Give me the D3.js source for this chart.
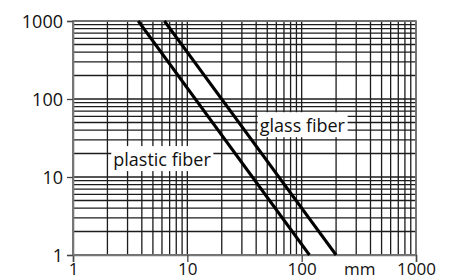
<!DOCTYPE html>
<html><head><meta charset="utf-8">
<script src="https://cdn.jsdelivr.net/npm/d3@7"></script>
<style>
html,body{margin:0;padding:0;background:#fff;}
text{font-family:"Open Sans",sans-serif;font-size:18px;fill:#111;}
</style></head>
<body><svg id="c" width="453" height="280"></svg>
<script>
// Data
const xTicks = [1, 10, 100, 1000];
const yTicks = [1, 10, 100, 1000];
const xUnit = "mm";
const glassX = [6.3, 200];
const glassY = [1000, 1];
const plasticX = [3.72, 117];
const plasticY = [1000, 1];
const labels = ["glass fiber", "plastic fiber"];
const labelX = [43, 2.25];
const labelY = [37.5, 13.8];

const svg = d3.select("#c");
const L = 73, R = 416, T = 21, B = 255;
const x = d3.scaleLog().domain([1, 1000]).range([L, R]);
const y = d3.scaleLog().domain([1, 1000]).range([B, T]);

const grid = [];
for (let d = 1; d < 1000; d *= 10) for (let k = 1; k < 10; k++) grid.push(d * k);
grid.push(1000);

const g = svg.append("g");
g.selectAll("line.vx").data(grid).join("line")
  .attr("x1", d => x(d)).attr("x2", d => x(d)).attr("y1", T).attr("y2", B)
  .attr("stroke", "#1c1c1c").attr("stroke-width", 1.3);
g.selectAll("line.hy").data(grid).join("line")
  .attr("y1", d => y(d)).attr("y2", d => y(d)).attr("x1", L).attr("x2", R)
  .attr("stroke", "#1c1c1c").attr("stroke-width", 1.3);

svg.append("rect").attr("x", L).attr("y", T).attr("width", R - L).attr("height", B - T)
  .attr("fill", "none").attr("stroke", "#777").attr("stroke-width", 1.6);

const xAxis = d3.axisBottom(x).tickValues(xTicks).tickFormat(d3.format("d")).tickSize(7).tickPadding(2);
const yAxis = d3.axisLeft(y).tickValues(yTicks).tickFormat(d3.format("d")).tickSize(6).tickPadding(4);
const xa = svg.append("g").attr("transform", `translate(0,${B})`).call(xAxis);
const ya = svg.append("g").attr("transform", `translate(${L},0)`).call(yAxis);
[xa, ya].forEach(a => {
  a.select(".domain").attr("stroke", "#777").attr("stroke-width", 1.6);
  a.selectAll(".tick line").attr("stroke", "#444").attr("stroke-width", 1.3);
  a.selectAll(".tick text").style("font-family", "Open Sans").style("font-size", "17px").attr("fill", "#111");
});
ya.selectAll(".tick text").style("font-size", "18px").attr("dy", "0.36em");
xa.selectAll(".tick text").attr("y", 20).attr("dy", null);

svg.append("text").attr("x", (x(100) + x(1000)) / 2 + 1).attr("y", B + 20)
  .attr("text-anchor", "middle").style("font-size", "17px").text(xUnit);

const line = d3.line().x(d => x(d[0])).y(d => y(d[1]));
[[glassX, glassY], [plasticX, plasticY]].forEach(([xs, ys]) => {
  svg.append("path").datum(xs.map((v, i) => [v, ys[i]]))
    .attr("d", line).attr("fill", "none").attr("stroke", "#000").attr("stroke-width", 3);
});

labels.forEach((t, i) => {
  const lg = svg.append("g");
  const tx = lg.append("text").attr("x", x(labelX[i])).attr("y", y(labelY[i])).text(t);
  const bb = tx.node().getBBox();
  lg.insert("rect", "text").attr("x", bb.x - 2).attr("y", bb.y - 1)
    .attr("width", bb.width + 4).attr("height", bb.height + 1).attr("fill", "#fff");
});
</script></body></html>
